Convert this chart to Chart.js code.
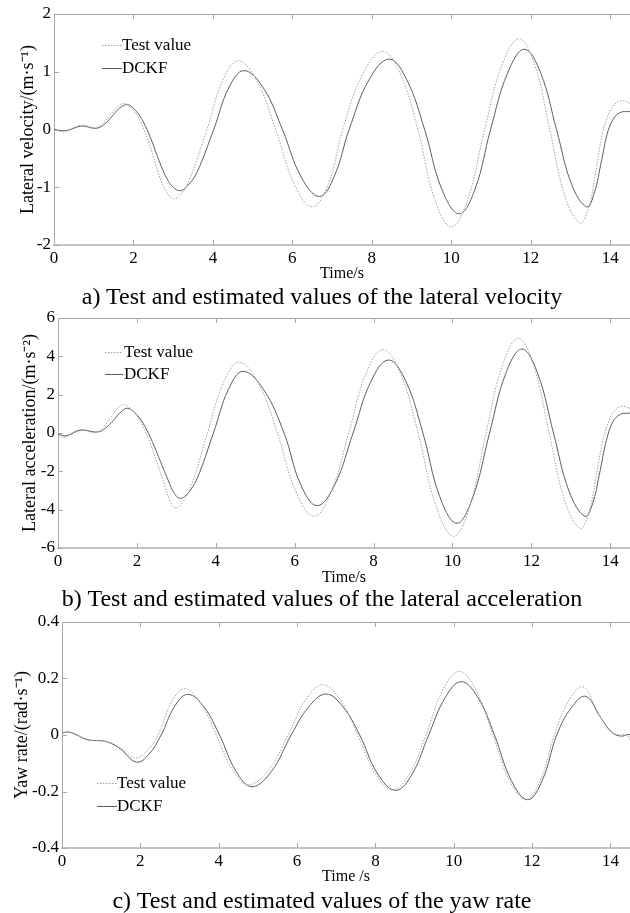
<!DOCTYPE html>
<html>
<head>
<meta charset="utf-8">
<script src="https://cdn.jsdelivr.net/npm/chart.js@4.4.1/dist/chart.umd.min.js"></script>
<style>
  html,body{margin:0;padding:0;background:#fff;}
  body{width:630px;height:913px;position:relative;overflow:hidden;font-family:"Liberation Serif","Times New Roman",serif;}
  .wrap{position:absolute;left:0;width:630px;}
  .cap{position:absolute;left:7px;width:630px;text-align:center;font-size:24px;line-height:28px;color:#000;white-space:nowrap;}
</style>
</head>
<body>
<div class="wrap" id="wa" style="top:0;height:283px;"><canvas id="ca"></canvas></div>
<div class="cap" style="top:282px;">a) Test and estimated values of the lateral velocity</div>
<div class="wrap" id="wb" style="top:300px;height:287px;"><canvas id="cb"></canvas></div>
<div class="cap" style="top:584px;">b) Test and estimated values of the lateral acceleration</div>
<div class="wrap" id="wc" style="top:604px;height:282px;"><canvas id="cc"></canvas></div>
<div class="cap" style="top:886px;">c) Test and estimated values of the yaw rate</div>
<script>
// ---------- tick labels ----------
const xTicks = [0, 2, 4, 6, 8, 10, 12, 14];
const yTicksA = [-2, -1, 0, 1, 2];
const yTicksB = [-6, -4, -2, 0, 2, 4, 6];
const yTicksC = [-0.4, -0.2, 0, 0.2, 0.4];
const seriesNames = ["Test value", "DCKF"];

// ---------- a) lateral velocity ----------
const testTimeA = [0, 0.24, 0.66, 1.03, 1.22, 1.41, 1.6, 1.79, 2.0, 2.2, 2.4, 2.6, 2.8, 3.01, 3.2, 3.42, 3.85, 4.25, 4.64, 5.1, 5.58, 6.05, 6.5, 6.9, 7.27, 7.77, 8.28, 8.72, 9.16, 9.58, 10.0, 10.42, 10.84, 11.28, 11.71, 12.1, 12.48, 12.86, 13.24, 13.45, 13.62, 13.8, 13.98, 14.15, 14.33, 14.55];
const testValA  = [0.02, -0.04, 0.075, 0.03, 0.1, 0.25, 0.39, 0.45, 0.33, 0.1, -0.25, -0.7, -1.04, -1.2, -1.12, -0.85, 0.0, 0.85, 1.19, 0.85, 0.0, -0.95, -1.34, -0.95, 0.0, 0.96, 1.35, 0.96, 0.0, -1.2, -1.69, -1.2, 0.0, 1.12, 1.57, 1.12, 0.0, -1.15, -1.62, -1.38, -0.8, -0.1, 0.3, 0.46, 0.5, 0.43];
const dckfTimeA = [0, 0.3, 0.7, 1.05, 1.25, 1.45, 1.65, 1.85, 2.05, 2.25, 2.45, 2.65, 2.85, 3.0, 3.18, 3.38, 3.6, 4.02, 4.4, 4.78, 5.27, 5.75, 6.22, 6.68, 7.05, 7.43, 7.93, 8.44, 8.88, 9.33, 9.76, 10.2, 10.6, 10.99, 11.42, 11.84, 12.25, 12.65, 13.03, 13.41, 13.6, 13.78, 13.95, 14.12, 14.28, 14.42, 14.55];
const dckfValA  = [0.0, -0.02, 0.06, 0.02, 0.08, 0.22, 0.37, 0.43, 0.33, 0.13, -0.18, -0.55, -0.86, -1.0, -1.06, -0.96, -0.74, 0.0, 0.72, 1.02, 0.72, 0.0, -0.82, -1.16, -0.82, 0.0, 0.86, 1.22, 0.86, 0.0, -1.03, -1.46, -1.03, 0.0, 0.98, 1.39, 0.98, 0.0, -0.95, -1.34, -1.1, -0.55, -0.02, 0.22, 0.3, 0.31, 0.31];

// ---------- b) lateral acceleration ----------
const testTimeB = [0, 0.15, 0.53, 0.95, 1.15, 1.35, 1.52, 1.67, 1.9, 2.1, 2.3, 2.5, 2.7, 2.85, 2.98, 3.15, 3.38, 3.79, 4.19, 4.59, 5.08, 5.56, 6.03, 6.49, 6.93, 7.37, 7.8, 8.24, 8.69, 9.13, 9.58, 10.03, 10.44, 10.85, 11.26, 11.67, 12.06, 12.45, 12.84, 13.23, 13.45, 13.62, 13.8, 13.98, 14.15, 14.33, 14.55];
const testValB  = [-0.1, -0.23, 0.17, 0.03, 0.3, 0.85, 1.3, 1.48, 1.15, 0.55, -0.35, -1.5, -2.7, -3.6, -3.91, -3.65, -2.75, 0.0, 2.6, 3.69, 2.6, 0.0, -3.05, -4.35, -3.05, 0.0, 3.05, 4.35, 3.05, 0.0, -3.8, -5.39, -3.8, 0.0, 3.5, 4.94, 3.5, 0.0, -3.5, -4.97, -4.2, -2.5, -0.5, 0.7, 1.25, 1.39, 1.22];
const dckfTimeB = [0, 0.2, 0.58, 1.0, 1.2, 1.4, 1.6, 1.77, 2.0, 2.2, 2.4, 2.6, 2.8, 2.95, 3.09, 3.27, 3.52, 3.94, 4.32, 4.69, 5.21, 5.73, 6.15, 6.57, 7.02, 7.48, 7.93, 8.38, 8.82, 9.25, 9.68, 10.11, 10.52, 10.94, 11.35, 11.76, 12.16, 12.56, 12.96, 13.36, 13.55, 13.72, 13.9, 14.07, 14.25, 14.42, 14.55];
const dckfValB  = [-0.05, -0.15, 0.15, 0.05, 0.25, 0.65, 1.1, 1.29, 0.95, 0.35, -0.5, -1.5, -2.5, -3.15, -3.41, -3.2, -2.4, 0.0, 2.27, 3.22, 2.27, 0.0, -2.68, -3.79, -2.68, 0.0, 2.68, 3.81, 2.68, 0.0, -3.33, -4.71, -3.33, 0.0, 3.1, 4.38, 3.1, 0.0, -3.07, -4.35, -3.7, -2.2, -0.4, 0.6, 0.97, 1.03, 1.03];

// ---------- c) yaw rate ----------
const testTimeC = [0, 0.2, 0.66, 1.09, 1.43, 1.85, 2.15, 2.45, 2.79, 3.13, 3.53, 3.94, 4.35, 4.76, 5.27, 5.77, 6.22, 6.66, 7.1, 7.55, 8.0, 8.44, 8.87, 9.29, 9.72, 10.14, 10.57, 11.0, 11.42, 11.85, 12.21, 12.57, 12.93, 13.3, 13.7, 14.0, 14.24, 14.41, 14.5];
const testValC  = [0.007, 0.01, -0.017, -0.022, -0.04, -0.081, -0.058, 0.0, 0.115, 0.164, 0.115, 0.0, -0.124, -0.176, -0.124, 0.0, 0.125, 0.178, 0.125, 0.0, -0.137, -0.194, -0.137, 0.0, 0.158, 0.225, 0.158, 0.0, -0.161, -0.229, -0.161, 0.0, 0.12, 0.17, 0.075, 0.013, 0.0, 0.002, -0.017];
const dckfTimeC = [0, 0.2, 0.66, 1.09, 1.45, 1.9, 2.22, 2.53, 2.87, 3.21, 3.62, 4.02, 4.44, 4.85, 5.35, 5.85, 6.3, 6.74, 7.17, 7.6, 8.06, 8.52, 8.94, 9.36, 9.78, 10.19, 10.62, 11.04, 11.47, 11.89, 12.26, 12.63, 13.0, 13.37, 13.75, 14.05, 14.28, 14.45, 14.5];
const dckfValC  = [0.007, 0.01, -0.017, -0.022, -0.045, -0.096, -0.068, 0.0, 0.1, 0.144, 0.1, 0.0, -0.128, -0.183, -0.128, 0.0, 0.1, 0.145, 0.1, 0.0, -0.138, -0.196, -0.138, 0.0, 0.132, 0.189, 0.132, 0.0, -0.161, -0.229, -0.161, 0.0, 0.096, 0.137, 0.062, 0.008, -0.004, 0.002, 0.0];

const FONT = "'Liberation Serif','Times New Roman',serif";
const pts = (t, v) => t.map((x, i) => ({x: x, y: v[i]}));

const frame = {
  id: 'frame',
  afterDraw(chart) {
    const {ctx, chartArea: ca, scales} = chart;
    ctx.save();
    ctx.strokeStyle = '#a8a8a8';
    ctx.lineWidth = 1;
    ctx.beginPath();
    ctx.moveTo(ca.left, ca.top + 0.5);
    ctx.lineTo(ca.right, ca.top + 0.5);
    ctx.stroke();
    scales.x.ticks.forEach(t => {
      const px = Math.round(scales.x.getPixelForValue(t.value)) + 0.5;
      ctx.beginPath();
      ctx.moveTo(px, ca.bottom); ctx.lineTo(px, ca.bottom - 5);
      ctx.moveTo(px, ca.top); ctx.lineTo(px, ca.top + 5);
      ctx.stroke();
    });
    scales.y.ticks.forEach(t => {
      const py = Math.round(scales.y.getPixelForValue(t.value)) + 0.5;
      ctx.beginPath();
      ctx.moveTo(ca.left, py); ctx.lineTo(ca.left + 5, py);
      ctx.stroke();
    });
    const o = chart.options.plugins.frame;
    chart.data.datasets.forEach((ds, i) => {
      const y = ca.top + o.ly[i];
      ctx.strokeStyle = ds.borderColor;
      ctx.lineWidth = 1;
      ctx.setLineDash(ds.borderDash || []);
      ctx.beginPath();
      ctx.moveTo(ca.left + o.lx0, y + 0.5);
      ctx.lineTo(ca.left + o.lx1, y + 0.5);
      ctx.stroke();
      ctx.setLineDash([]);
      ctx.fillStyle = '#000';
      ctx.font = '17px ' + FONT;
      ctx.textBaseline = 'middle';
      ctx.textAlign = 'left';
      ctx.fillText(ds.label, ca.left + o.tx, y + 1);
    });
    ctx.restore();
  }
};

function makeChart(id, cfg) {
  return new Chart(document.getElementById(id), {
    type: 'line',
    data: {
      datasets: [
        {label: seriesNames[0], data: pts(cfg.tT, cfg.tV), borderColor: '#a0a0a0', borderWidth: 1, borderDash: [1.5, 1.5], pointRadius: 0, tension: 0.4, fill: false},
        {label: seriesNames[1], data: pts(cfg.dT, cfg.dV), borderColor: '#5e5e5e', borderWidth: 1, pointRadius: 0, tension: 0.4, fill: false}
      ]
    },
    options: {
      responsive: true,
      maintainAspectRatio: false,
      animation: false,
      events: [],
      layout: {padding: {top: cfg.padTop, right: 0, bottom: 0, left: 0}},
      plugins: {
        legend: {display: false},
        tooltip: {enabled: false},
        frame: cfg.legend
      },
      scales: {
        x: {
          type: 'linear', min: 0, max: 14.5,
          afterBuildTicks: s => { s.ticks = xTicks.map(v => ({value: v})); },
          afterFit: s => { s.height = cfg.xH; },
          grid: {drawOnChartArea: false, drawTicks: false},
          border: {color: '#c4c4c4', width: 2},
          ticks: {autoSkip: false, maxRotation: 0, padding: 3, color: '#000', font: {family: FONT, size: 17}},
          title: {display: true, text: cfg.xTitle, color: '#000', font: {family: FONT, size: 16}, padding: {top: 0, bottom: 0}}
        },
        y: {
          type: 'linear', min: cfg.yT[0], max: cfg.yT[cfg.yT.length - 1],
          afterBuildTicks: s => { s.ticks = cfg.yT.map(v => ({value: v})); },
          afterFit: s => { s.width = cfg.yW; },
          grid: {drawOnChartArea: false, drawTicks: false},
          border: {color: '#a8a8a8', width: 1},
          ticks: {autoSkip: false, padding: 3, color: '#000', font: {family: FONT, size: 17},
                  callback: v => String(v)},
          title: {display: true, text: cfg.yTitle, color: '#000', font: {family: FONT, size: 18}, padding: {top: cfg.yTitlePad, bottom: 0}}
        }
      }
    },
    plugins: [frame]
  });
}

makeChart('ca', {tT: testTimeA, tV: testValA, dT: dckfTimeA, dV: dckfValA, yT: yTicksA,
  padTop: 14, xH: 38, yW: 54, yTitlePad: 17,
  xTitle: 'Time/s', yTitle: 'Lateral velocity/(m·s⁻¹)',
  legend: {lx0: 48, lx1: 68, tx: 68, ly: [31, 54]}});

makeChart('cb', {tT: testTimeB, tV: testValB, dT: dckfTimeB, dV: dckfValB, yT: yTicksB,
  padTop: 18, xH: 39, yW: 58, yTitlePad: 19,
  xTitle: 'Time/s', yTitle: 'Lateral acceleration/(m·s⁻²)',
  legend: {lx0: 47, lx1: 65, tx: 66, ly: [34, 56]}});

makeChart('cc', {tT: testTimeC, tV: testValC, dT: dckfTimeC, dV: dckfValC, yT: yTicksC,
  padTop: 18, xH: 38, yW: 62, yTitlePad: 11,
  xTitle: 'Time /s', yTitle: 'Yaw rate/(rad·s⁻¹)',
  legend: {lx0: 35, lx1: 55, tx: 55, ly: [161, 184]}});
</script>
</body>
</html>
